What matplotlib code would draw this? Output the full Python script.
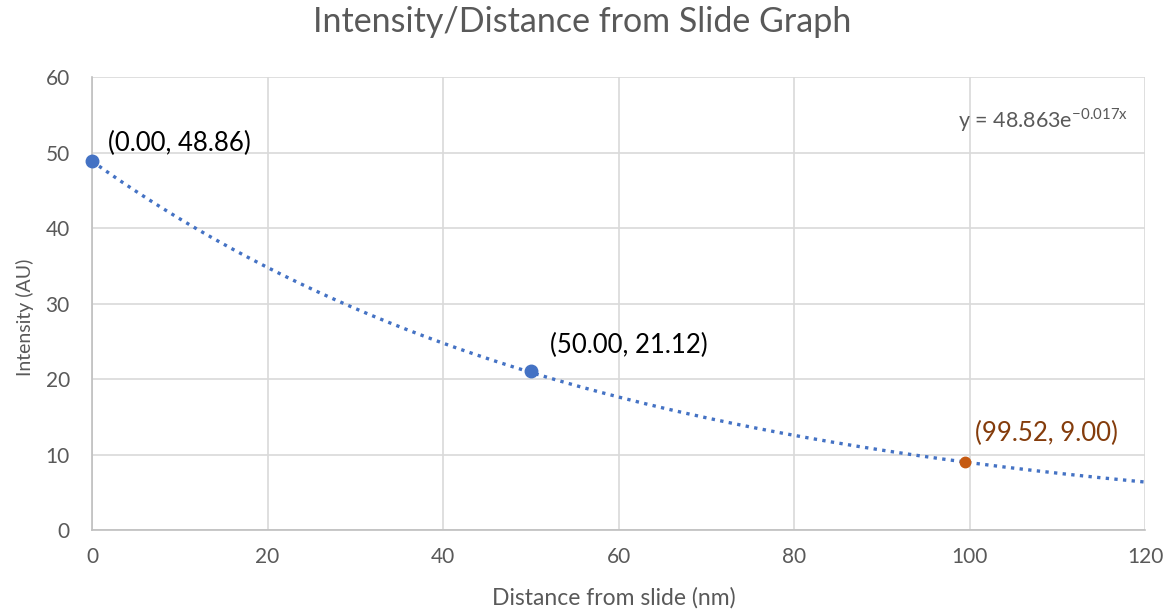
import numpy as np
import matplotlib.pyplot as plt

plt.rcParams['font.family'] = ['Lato', 'DejaVu Sans']

# measured points
x_pts = [0.00, 50.00]
y_pts = [48.86, 21.12]
x_extra = [99.52]
y_extra = [9.00]

# exponential trendline coefficients (as shown on the chart)
a_fit = 48.863
b_fit = -0.017

xt = np.linspace(0, 120, 300)
yt = a_fit * np.exp(b_fit * xt)

fig = plt.figure(figsize=(11.72, 6.12), dpi=100)
ax = fig.add_axes([0.0785, 0.134, 0.8985, 0.740])

ax.plot(xt, yt, linestyle=(0, (1, 1.6)), color='#4472C4', lw=2.4, zorder=2)
ax.plot(x_pts, y_pts, 'o', color='#4472C4', ms=9, zorder=3, clip_on=False)
ax.plot(x_extra, y_extra, 'o', color='#C55A11', ms=7.5, zorder=3)

offsets = [(16, 18), (19, 25)]
for x, y, off in zip(x_pts, y_pts, offsets):
    ax.annotate(f'({x:.2f}, {y:.2f})', (x, y), xytext=off, textcoords='offset pixels',
                fontsize=18.5, color='black', va='center', ha='left')
for x, y in zip(x_extra, y_extra):
    ax.annotate(f'({x:.2f}, {y:.2f})', (x, y), xytext=(10, 29), textcoords='offset pixels',
                fontsize=18.5, color='#843C0C', va='center', ha='left')

ax.text(98.7, 54.3, r'y = 48.863e$^{\mathregular{-0.017x}}$', fontsize=15.5,
        color='#595959', va='center', ha='left')

ax.set_xlim(0, 120)
ax.set_ylim(0, 60)
ax.set_xticks(range(0, 121, 20))
ax.set_yticks(range(0, 61, 10))
ax.grid(True, color='#D9D9D9', lw=1.2)
ax.set_axisbelow(True)
for s in ['top', 'right']:
    ax.spines[s].set_visible(False)
for s in ['bottom', 'left']:
    ax.spines[s].set_color('#BFBFBF')
    ax.spines[s].set_linewidth(1.2)
ax.tick_params(length=0, labelsize=15, labelcolor='#595959')
ax.tick_params(axis='x', pad=12)
ax.tick_params(axis='y', pad=16)

fig.text(0.524, 1 - 598 / 612, 'Distance from slide (nm)', fontsize=16.5, color='#595959',
         ha='center', va='center')
fig.text(25 / 1172, 1 - 317 / 612, 'Intensity (AU)', fontsize=14, color='#595959',
         ha='center', va='center', rotation=90)
fig.text(0.497, 1 - 22 / 612, 'Intensity/Distance from Slide Graph', fontsize=24.5,
         color='#595959', ha='center', va='center')

fig.savefig('out.png', dpi=100)
